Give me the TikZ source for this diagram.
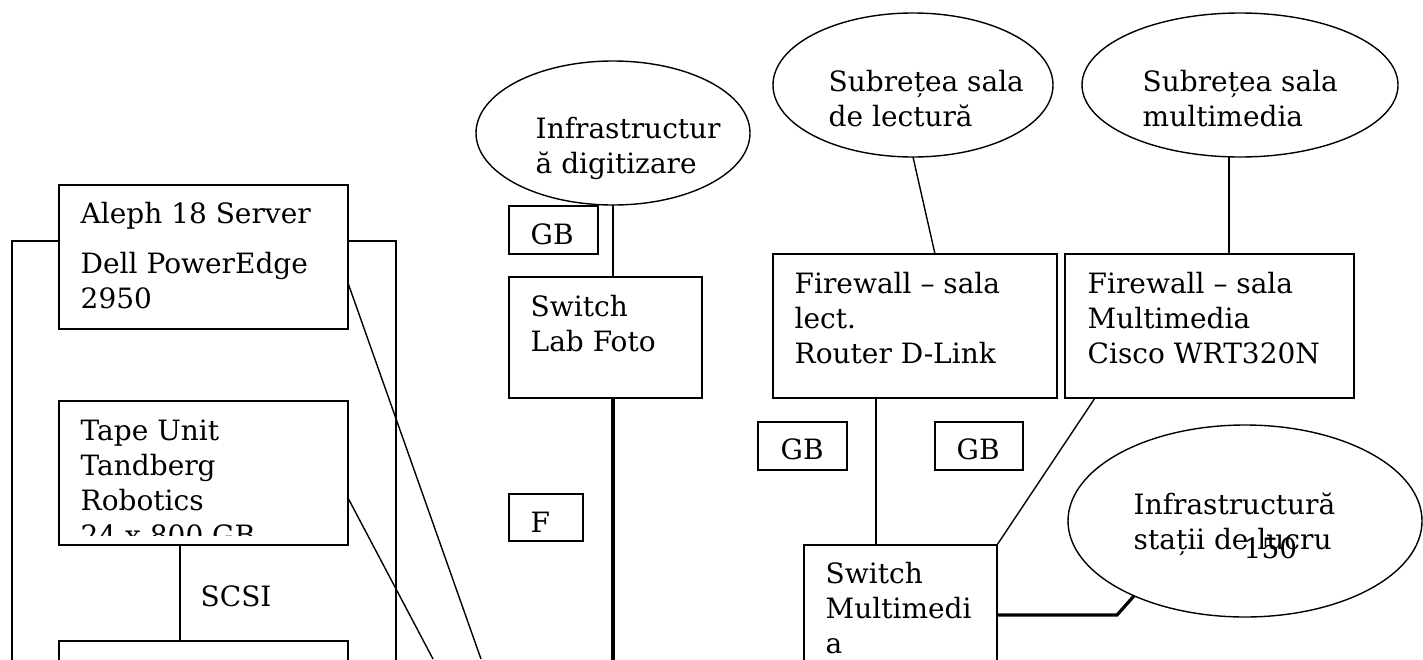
\documentclass[tikz,border=0pt]{standalone}
\usepackage{fontspec}
\setmainfont{DejaVu Serif}
\usetikzlibrary{shapes.geometric}

\begin{document}
\begin{tikzpicture}[
    x=0.5pt, y=-0.5pt,
    line width=0.7pt,
    box/.style={draw, rectangle, anchor=north west, inner sep=0pt, outer sep=0pt},
    cloud/.style={draw, ellipse, inner sep=0pt, outer sep=0pt},
    txt/.style={anchor=north west, inner sep=0pt, align=left,
                font=\fontsize{14}{17.5}\selectfont},
    link/.style={line width=0.7pt},
    trunk/.style={line width=1.6pt},
]
    \useasboundingbox (0,0) rectangle (1423,659);
    \clip (0,0) rectangle (1423,659);

    %==================== SERVER RACK ====================
    \node[box, minimum width=144.5pt, minimum height=72pt] (server) at (59,185) {};
    \node[txt] (serverT) at ([shift={(21,17)}]server.north west)
        {Aleph 18 Server\\[7.5pt]Dell PowerEdge\\2950};

    \node[box, minimum width=144.5pt, minimum height=72pt] (tape) at (59,401) {};
    \begin{scope}
        \clip (tape.north west) rectangle ([yshift=5pt]tape.south east);
        \node[txt] (tapeT) at ([shift={(21,18)}]tape.north west)
            {Tape Unit\\Tandberg\\Robotics\\24 x 800 GB};
    \end{scope}

    \node[box, minimum width=144.5pt, minimum height=40pt] (store) at (59,641) {};

    % rack frame
    \coordinate (rackL) at (12,700);
    \coordinate (rackR) at (396,700);
    \draw[link] ([yshift=-28pt]server.north west) -| (rackL);
    \draw[link] ([yshift=-28pt]server.north east) -| (rackR);

    % SCSI link
    \draw[link] ([xshift=-11.75pt]tape.south) -- ([xshift=-11.75pt]store.north);
    \node[txt] (scsi) at ([shift={(141,-56)}]store.north west) {SCSI};

    % uplinks towards the backbone
    \coordinate (up1) at (481,659);
    \coordinate (up2) at (433,659);
    \draw[link] ([yshift=-49pt]server.north east) -- (up1);
    \draw[link] ([yshift=-48.5pt]tape.north east) -- (up2);

    %==================== DIGITIZATION ====================
    \node[cloud, minimum width=137pt, minimum height=72pt] (digit) at (613,133) {};
    \node[txt] (digitT) at ([shift={(-78,-16)}]digit.center)
        {Infrastructur\\ă digitizare};

    \node[box, minimum width=44.5pt, minimum height=24pt] (gba) at (509,206) {};
    \node[txt] (gbaT) at ([shift={(21,17)}]gba.north west) {GB};

    \node[box, minimum width=96.5pt, minimum height=60.5pt] (slf) at (509,277) {};
    \node[txt] (slfT) at ([shift={(21,18)}]slf.north west) {Switch\\Lab Foto};

    \node[box, minimum width=37pt, minimum height=23.5pt] (fb) at (509,494) {};
    \node[txt] (fbT) at ([shift={(21,17)}]fb.north west) {F};

    \coordinate (foot) at (613,700);
    \draw[link] (digit.south) -- (digit.south |- slf.north);
    \draw[trunk] (digit.south |- slf.south) -- (foot);

    %==================== READING ROOM ====================
    \node[cloud, minimum width=140pt, minimum height=72pt] (lect) at (913,85) {};
    \node[txt] (lectT) at ([shift={(-85,-15)}]lect.center)
        {Subrețea sala\\de lectură};

    \node[box, minimum width=142pt, minimum height=72pt] (fwl) at (773,254) {};
    \node[txt] (fwlT) at ([shift={(21,18)}]fwl.north west)
        {Firewall – sala\\lect.\\Router D-Link};
    \draw[link] (lect.south) -- ([xshift=10pt]fwl.north);

    %==================== MULTIMEDIA ROOM ====================
    \node[cloud, minimum width=158pt, minimum height=72pt] (mm) at (1240,85) {};
    \node[txt] (mmT) at ([shift={(-98,-15)}]mm.center)
        {Subrețea sala\\multimedia};

    \node[box, minimum width=144.5pt, minimum height=72pt] (fwm) at (1065,254) {};
    \node[txt] (fwmT) at ([shift={(22,18)}]fwm.north west)
        {Firewall – sala\\Multimedia\\Cisco WRT320N};
    \draw[link] ([xshift=-5.5pt]mm.south) -- ([xshift=-5.5pt]mm.south |- fwm.north);

    \node[box, minimum width=44.5pt, minimum height=24pt] (gbl) at (758,422) {};
    \node[txt] (gblT) at ([shift={(22,16)}]gbl.north west) {GB};
    \node[box, minimum width=44pt, minimum height=24pt] (gbm) at (935,422) {};
    \node[txt] (gbmT) at ([shift={(21,16)}]gbm.north west) {GB};

    \node[box, minimum width=96.5pt, minimum height=70pt] (smm) at (804,545) {};
    \node[txt] (smmT) at ([shift={(21,17)}]smm.north west)
        {Switch\\Multimedi\\a};

    \draw[link] ([xshift=-19.5pt]fwl.south) -- ([xshift=-19.5pt]fwl.south |- smm.north);
    \draw[link] ([xshift=15pt]fwm.south west) -- (smm.north east);

    %==================== WORKSTATIONS ====================
    \node[cloud, minimum width=177pt, minimum height=96pt] (ws) at (1245,521) {};
    \node[txt] (wsT) at ([shift={(-112,-29)}]ws.center)
        {Infrastructură\\stații de lucru};
    \node[txt] (page) at ([shift={(-2,16)}]ws.center) {150};

    \draw[trunk] (smm.east) -- ++(120,0) -- (ws.214);

\end{tikzpicture}
\end{document}
